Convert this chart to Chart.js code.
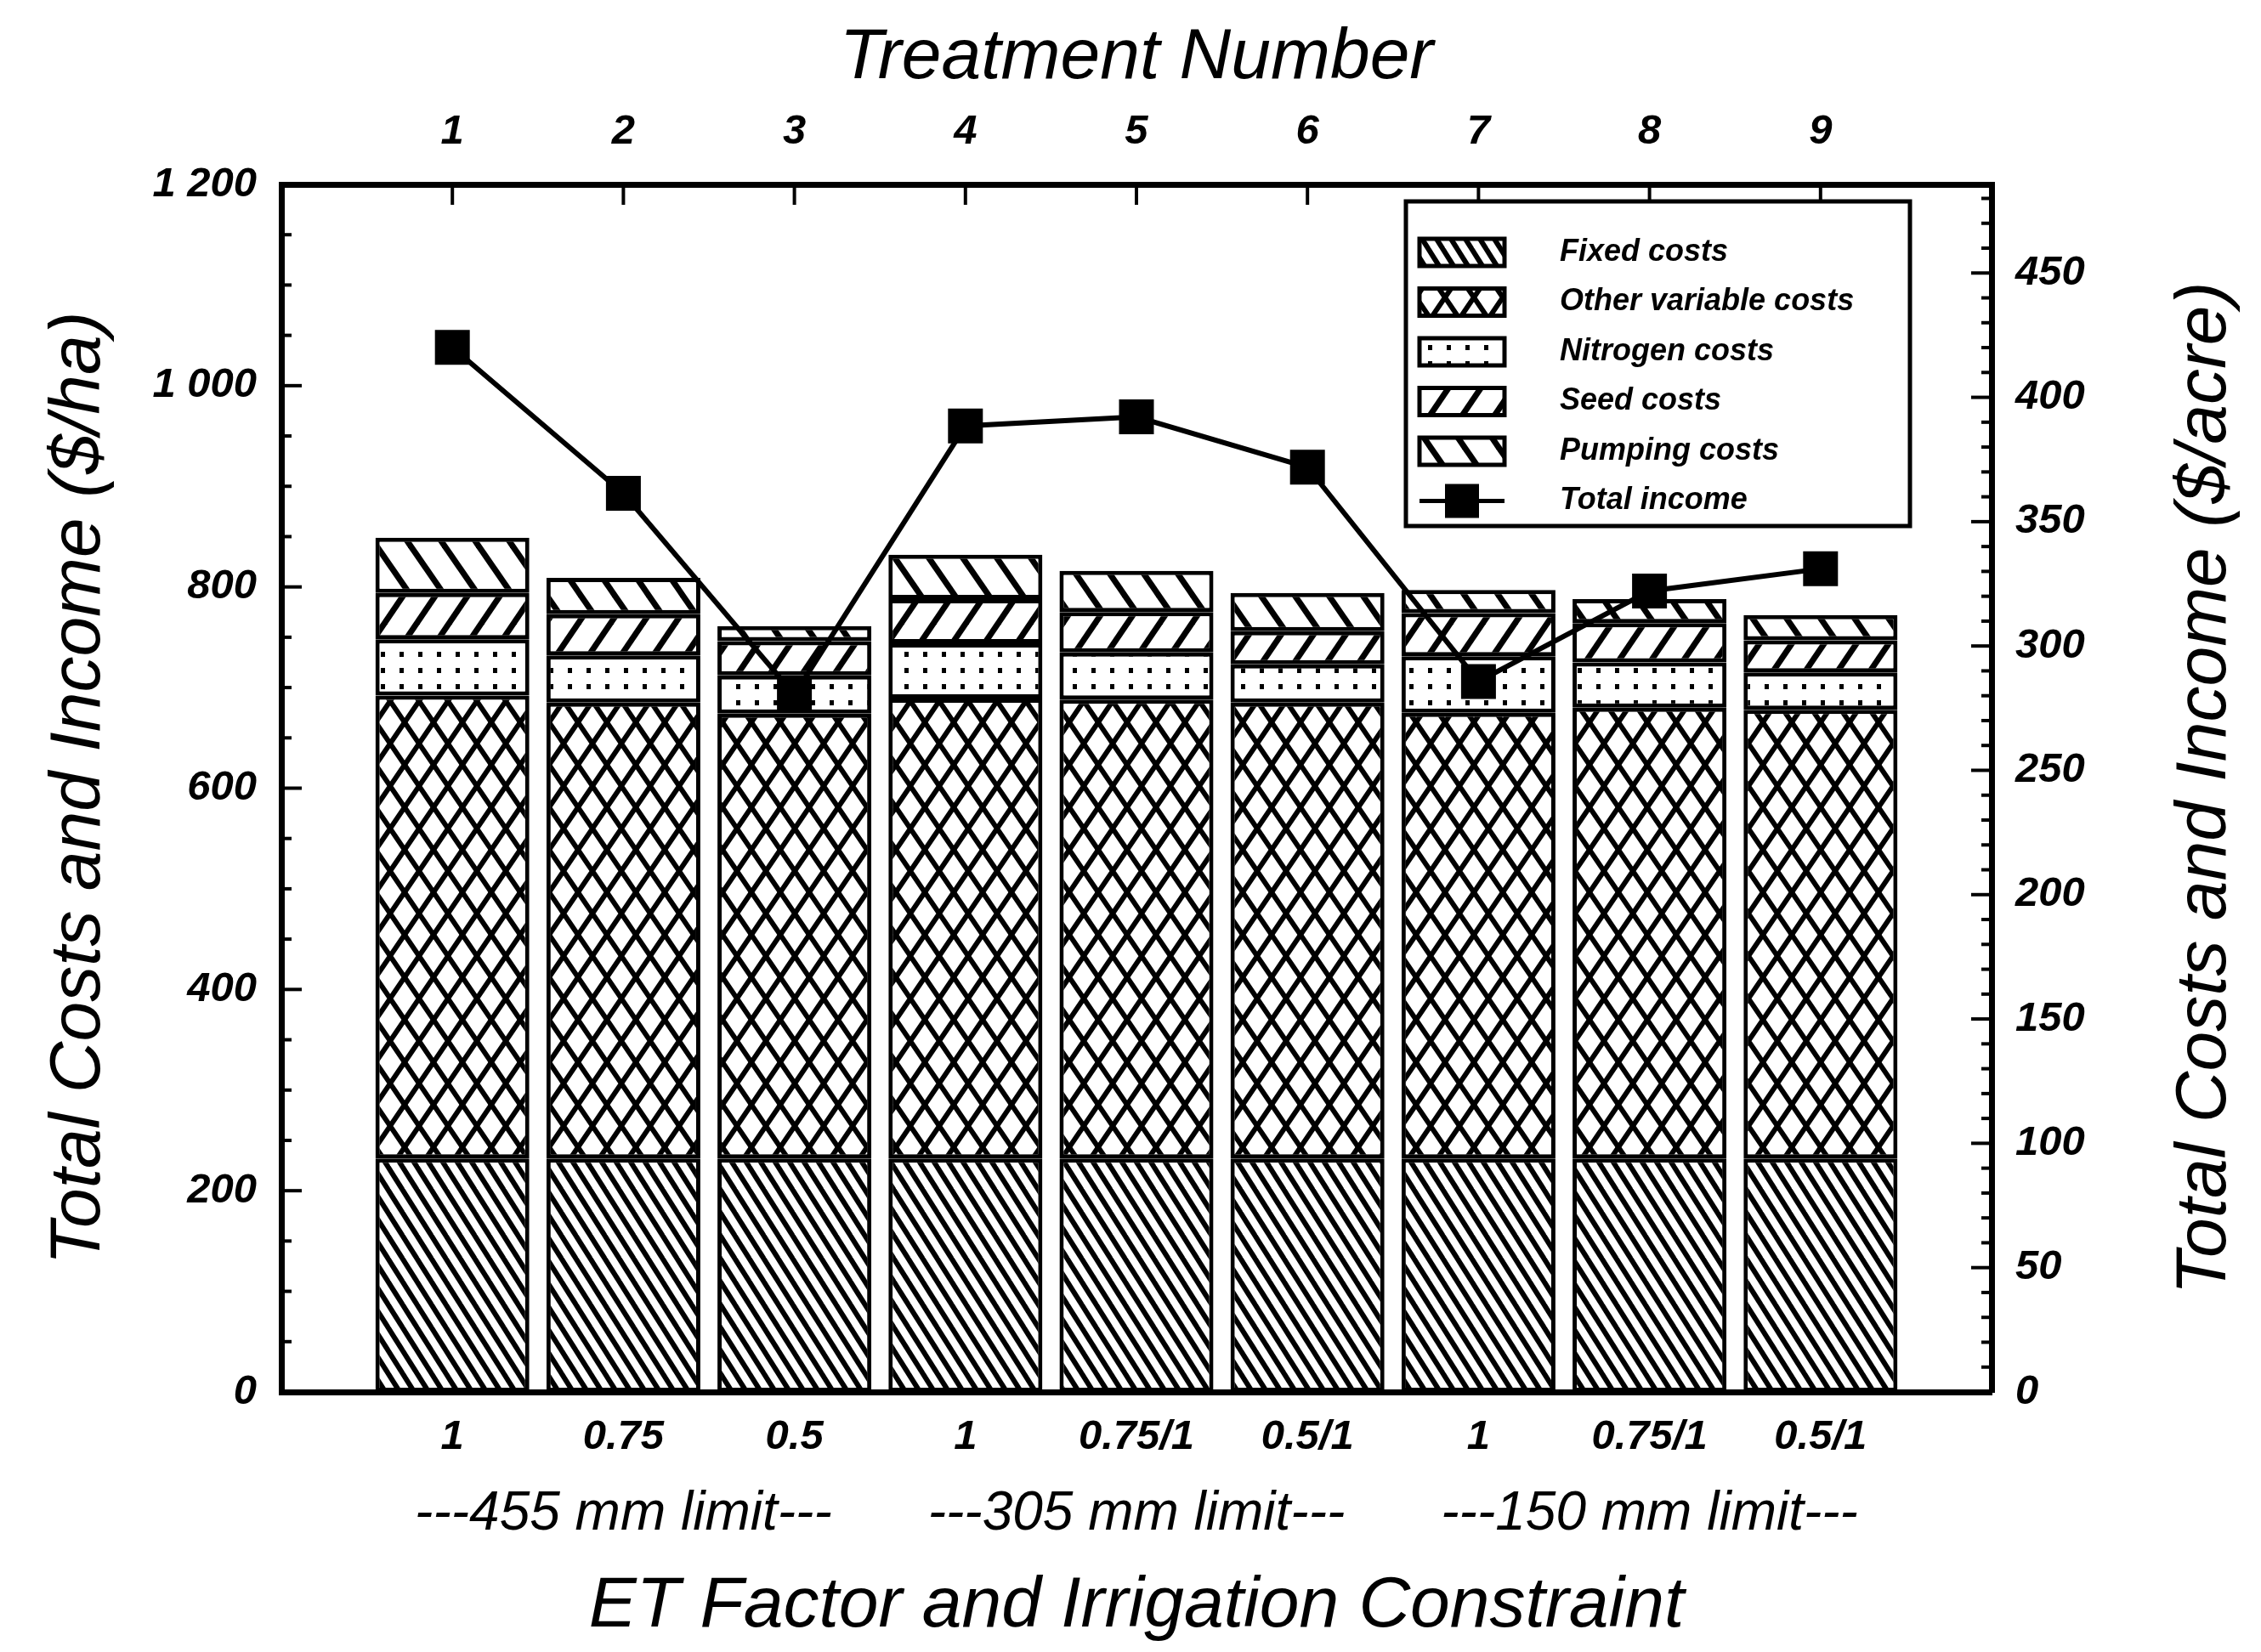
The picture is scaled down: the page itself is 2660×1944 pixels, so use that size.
<!DOCTYPE html>
<html>
<head>
<meta charset="utf-8">
<script src="https://cdn.jsdelivr.net/npm/chart.js@4.4.1/dist/chart.umd.min.js"></script>
<style>
  body { margin: 0; background: #fff; }
  #wrap { width: 2660px; height: 1944px; }
</style>
</head>
<body>
<div id="wrap"><canvas id="myChart" width="2660" height="1944"></canvas></div>
<script>
var treatments = [1, 2, 3, 4, 5, 6, 7, 8, 9];
var etLabels = ["1", "0.75", "0.5", "1", "0.75/1", "0.5/1", "1", "0.75/1", "0.5/1"];
var groupAt = [2, 5, 8];
var groupLabels = ["---455 mm limit---", "---305 mm limit---", "---150 mm limit---"];

// $/ha
var fixedCosts = [232, 232, 232, 232, 232, 232, 232, 232, 232];
var otherCosts = [460, 453, 442, 457, 456, 453, 443, 448, 446];
var nitrogenCosts = [56, 47, 38, 55, 47, 38, 56, 45, 37];
var seedCosts = [46, 41, 34, 44, 40, 33, 43, 39, 32];
var pumpingCosts = [55, 36, 15, 44, 41, 38, 23, 24, 25];
var totalIncome = [1038, 893, 693, 960, 969, 919, 706, 796, 818];

var leftTicks = [0, 200, 400, 600, 800, 1000, 1200];
var leftTickLabels = ["0", "200", "400", "600", "800", "1 000", "1 200"];
var rightTicks = [0, 50, 100, 150, 200, 250, 300, 350, 400, 450];
var haPerAcre = 2.471;

var ctx = document.getElementById("myChart").getContext("2d");

function tile(w, h, draw) {
  var c = document.createElement("canvas");
  c.width = w;
  c.height = h;
  var g = c.getContext("2d");
  g.fillStyle = "#fff";
  g.fillRect(0, 0, w, h);
  g.fillStyle = "#000";
  g.strokeStyle = "#000";
  draw(g, w, h);
  return ctx.createPattern(c, "repeat");
}

function lines(w, h, lw, back, fwd) {
  return tile(w, h, function (g) {
    g.lineWidth = lw;
    [-w, 0, w].forEach(function (dx) {
      g.beginPath();
      if (back) { g.moveTo(dx - w, -h); g.lineTo(dx + 2 * w, 2 * h); }
      if (fwd) { g.moveTo(dx + 2 * w, -h); g.lineTo(dx - w, 2 * h); }
      g.stroke();
    });
  });
}

var fixedPattern = lines(17, 27, 6, true, false);
var otherPattern = lines(34, 50, 6, true, true);
var nitrogenPattern = tile(22, 19, function (g) { g.fillRect(8, 7, 5, 6); });
var seedPattern = lines(38, 56, 7, false, true);
var pumpingPattern = lines(40, 58, 7, true, false);

function points(values) {
  return values.map(function (v, i) { return { x: treatments[i], y: v }; });
}

function bars(label, values, pattern) {
  return {
    type: "bar",
    label: label,
    data: points(values),
    backgroundColor: pattern,
    borderColor: "#000",
    borderWidth: 5,
    borderSkipped: false,
    barPercentage: 0.9,
    categoryPercentage: 1,
    stack: "costs",
    order: 1,
  };
}

var tickFont = { family: "Liberation Sans", size: 49, style: "italic", weight: "bold" };
var groupFont = { family: "Liberation Sans", size: 64, style: "italic", weight: "normal" };
var titleFont = { family: "Liberation Sans", size: 84, style: "italic", weight: "normal" };
var edge = { display: true, color: "#000", width: 7 };
var noGrid = { display: false, drawTicks: false };

// inward ticks, right-hand title and the boxed legend
var decor = {
  id: "decor",
  afterDraw: function (chart) {
    var c = chart.ctx, a = chart.chartArea, s = chart.scales;
    c.save();
    c.strokeStyle = "#000";
    c.fillStyle = "#000";
    c.lineWidth = 4;
    function seg(x1, y1, x2, y2) {
      c.beginPath(); c.moveTo(x1, y1); c.lineTo(x2, y2); c.stroke();
    }
    var v, y;
    for (v = 0; v <= s.y.max; v += 50) {
      y = s.y.getPixelForValue(v);
      seg(a.left, y, a.left + (leftTicks.indexOf(v) >= 0 ? 24 : 12), y);
    }
    for (v = 0; v <= s.yRight.max; v += 10) {
      y = s.yRight.getPixelForValue(v);
      seg(a.right, y, a.right - (rightTicks.indexOf(v) >= 0 ? 24 : 12), y);
    }
    treatments.forEach(function (t) {
      var x = s.xTop.getPixelForValue(t);
      seg(x, a.top, x, a.top + 24);
    });

    // right title reads bottom-to-top like the left one
    c.save();
    c.font = "italic 84px 'Liberation Sans'";
    c.textAlign = "center";
    c.textBaseline = "middle";
    c.translate(chart.width - 65, (a.top + a.bottom) / 2);
    c.rotate(-Math.PI / 2);
    c.fillText("Total Costs and Income ($/acre)", 0, 0);
    c.restore();

    // legend
    var bw = 593, bh = 382;
    var bx = a.right - 96 - bw, by = a.top + 20;
    c.fillStyle = "#fff";
    c.fillRect(bx, by, bw, bh);
    c.lineWidth = 5;
    c.strokeRect(bx, by, bw, bh);
    c.font = "italic bold 36px 'Liberation Sans'";
    c.textAlign = "left";
    c.textBaseline = "middle";
    chart.data.datasets.forEach(function (ds, i) {
      var cy = by + 60 + i * 58.5;
      var sx = bx + 16, sw = 100, sh = 32;
      if (ds.type === "bar") {
        c.fillStyle = ds.backgroundColor;
        c.fillRect(sx, cy - sh / 2, sw, sh);
        c.lineWidth = 5;
        c.strokeRect(sx, cy - sh / 2, sw, sh);
      } else {
        c.lineWidth = 5;
        seg(sx, cy, sx + sw, cy);
        c.fillStyle = "#000";
        c.fillRect(sx + sw / 2 - 20, cy - 20, 40, 40);
      }
      c.fillStyle = "#000";
      c.fillText(ds.label, bx + 181, cy);
    });
    c.restore();
  },
};

var myChart = new Chart(ctx, {
  data: {
    datasets: [
      bars("Fixed costs", fixedCosts, fixedPattern),
      bars("Other variable costs", otherCosts, otherPattern),
      bars("Nitrogen costs", nitrogenCosts, nitrogenPattern),
      bars("Seed costs", seedCosts, seedPattern),
      bars("Pumping costs", pumpingCosts, pumpingPattern),
      {
        type: "line",
        label: "Total income",
        data: points(totalIncome),
        borderColor: "#000",
        borderWidth: 6,
        pointStyle: "rect",
        pointRadius: 29,
        pointBackgroundColor: "#000",
        pointBorderWidth: 0,
        tension: 0,
        stack: "income",
        order: 0,
      },
    ],
  },
  options: {
    responsive: false,
    animation: false,
    devicePixelRatio: 1,
    layout: { padding: 0 },
    plugins: { legend: { display: false }, tooltip: { enabled: false } },
    scales: {
      x: {
        type: "linear", position: "bottom", min: 0, max: 10, stacked: true, offset: false, weight: 0,
        grid: noGrid, border: edge,
        afterBuildTicks: function (s) { s.ticks = treatments.map(function (v) { return { value: v }; }); },
        afterFit: function (s) { s.height = 100; },
        ticks: {
          autoSkip: false, maxRotation: 0, padding: 24, color: "#000", font: tickFont,
          callback: function (v) { return etLabels[treatments.indexOf(v)]; },
        },
      },
      xGroup: {
        type: "linear", position: "bottom", min: 0, max: 10, offset: false, weight: 1,
        grid: noGrid, border: { display: false },
        afterBuildTicks: function (s) { s.ticks = groupAt.map(function (v) { return { value: v }; }); },
        afterFit: function (s) { s.height = 206; },
        ticks: {
          autoSkip: false, maxRotation: 0, padding: 6, color: "#000", font: groupFont,
          callback: function (v) { return groupLabels[groupAt.indexOf(v)]; },
        },
        title: {
          display: true, text: "ET Factor and Irrigation Constraint", color: "#000",
          font: titleFont, padding: { top: 0, bottom: 3 },
        },
      },
      xTop: {
        type: "linear", position: "top", min: 0, max: 10, offset: false,
        grid: noGrid, border: edge,
        afterBuildTicks: function (s) { s.ticks = treatments.map(function (v) { return { value: v }; }); },
        afterFit: function (s) { s.height = 217; },
        ticks: { autoSkip: false, maxRotation: 0, padding: 32, color: "#000", font: tickFont },
        title: {
          display: true, text: "Treatment Number", color: "#000",
          font: titleFont, padding: { top: 18, bottom: 0 },
        },
      },
      y: {
        type: "linear", position: "left", min: 0, max: 1200, stacked: true,
        grid: noGrid, border: edge,
        afterBuildTicks: function (s) { s.ticks = leftTicks.map(function (v) { return { value: v }; }); },
        afterFit: function (s) { s.width = 331; },
        ticks: {
          padding: 29, color: "#000", font: tickFont,
          callback: function (v) { return leftTickLabels[leftTicks.indexOf(v)]; },
        },
        title: {
          display: true, text: "Total Costs and Income ($/ha)", color: "#000",
          font: titleFont, padding: { top: 43, bottom: 0 },
        },
      },
      yRight: {
        type: "linear", position: "right", min: 0, max: 1200 / haPerAcre,
        grid: noGrid, border: edge,
        afterBuildTicks: function (s) { s.ticks = rightTicks.map(function (v) { return { value: v }; }); },
        afterFit: function (s) { s.width = 317; },
        ticks: { padding: 28, color: "#000", font: tickFont },
      },
    },
  },
  plugins: [decor],
});
</script>
</body>
</html>
